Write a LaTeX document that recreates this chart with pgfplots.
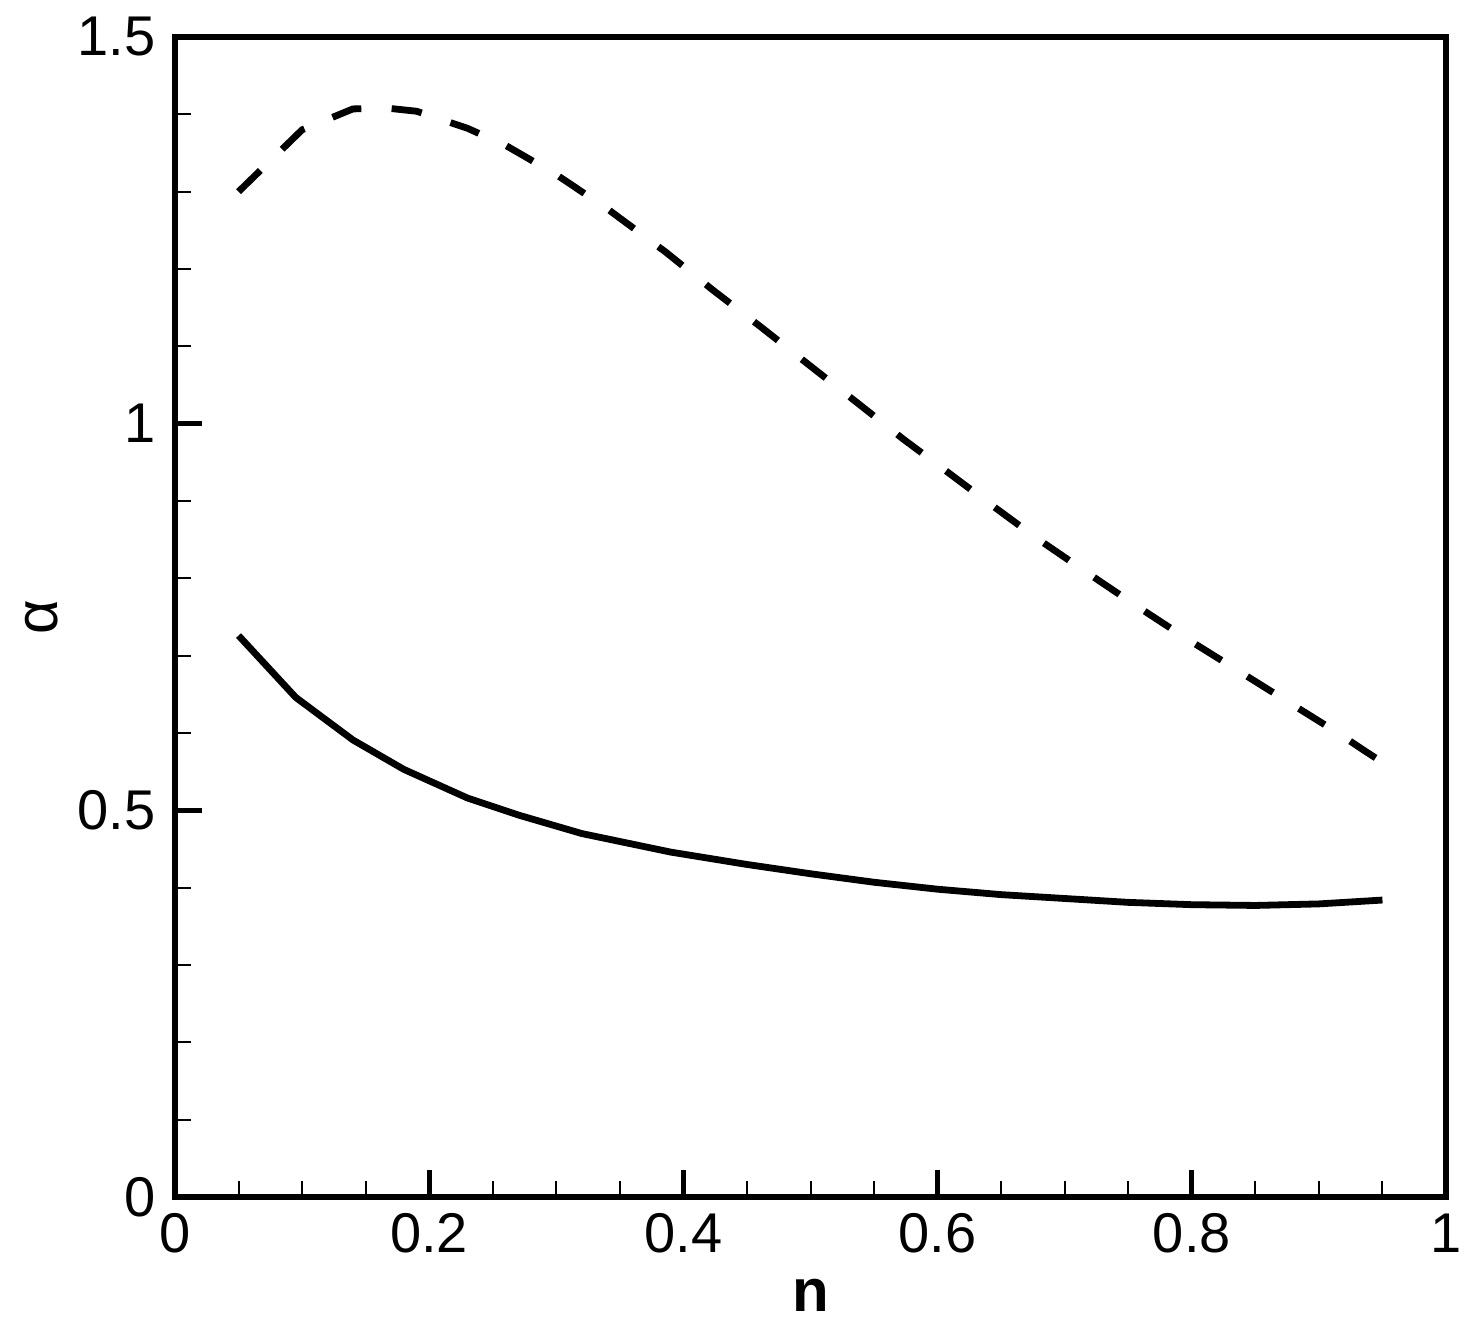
\documentclass[border=0pt]{standalone}
\usepackage{fontspec}
\setmainfont{Liberation Sans}
\usepackage{pgfplots}
\pgfplotsset{compat=1.18}
\begin{document}
\begin{tikzpicture}
\begin{axis}[
  name=ax,
  scale only axis,
  width=317.75pt, height=290pt,
  xmin=0, xmax=1, ymin=0, ymax=1.5,
  xtick={0,0.2,0.4,0.6,0.8,1},
  ytick={0,0.5,1,1.5},
  minor x tick num=3, minor y tick num=4,
  tick align=inside, xtick pos=left, ytick pos=left,
  major tick length=6.75pt, minor tick length=4pt,
  major tick style={line width=1.25pt, black},
  minor tick style={line width=0.5pt, black},
  axis line style={line width=1.6pt},
  /pgf/number format/assume math mode=true,
  tick label style={font=\fontsize{14}{17}\selectfont, inner sep=0pt},
  xticklabel style={anchor=north, yshift=-4pt},
  yticklabel style={anchor=east, xshift=-4.75pt},
  xlabel={\textbf{n}},
  ylabel={α},
  xlabel style={at={(axis description cs:0.5,-0.0991)}, anchor=base, font=\fontsize{15}{18}\selectfont},
  ylabel style={at={(axis description cs:-0.0928,0.5)}, anchor=base, font=\fontsize{15}{18}\selectfont},
]
\addplot[black, line width=1.7pt, mark=none, dash pattern=on 7.6pt off 7.6pt] coordinates {
(0.05,1.300) (0.1,1.380) (0.14,1.407) (0.167,1.408) (0.19,1.404) (0.23,1.382)
(0.26,1.360) (0.3,1.322) (0.34,1.278) (0.386,1.222) (0.423,1.173) (0.461,1.125)
(0.498,1.077) (0.536,1.028) (0.573,0.980) (0.600,0.947) (0.639,0.899) (0.677,0.853)
(0.717,0.808) (0.755,0.766) (0.795,0.723) (0.836,0.681) (0.876,0.640) (0.916,0.599)
(0.935,0.578) (0.95,0.562)
};
\addplot[black, line width=1.7pt, mark=none] coordinates {
(0.05,0.726) (0.095,0.646) (0.14,0.591) (0.18,0.553) (0.23,0.516) (0.27,0.494)
(0.32,0.470) (0.39,0.446) (0.45,0.430) (0.5,0.418) (0.55,0.407) (0.6,0.398)
(0.65,0.391) (0.7,0.386) (0.75,0.381) (0.8,0.378) (0.85,0.377) (0.9,0.379) (0.95,0.384)
};
\end{axis}
\pgfresetboundingbox
\path (ax.south west) ++(-43.75pt,-32.75pt) rectangle ++(366.25pt,332pt);
\end{tikzpicture}
\end{document}
